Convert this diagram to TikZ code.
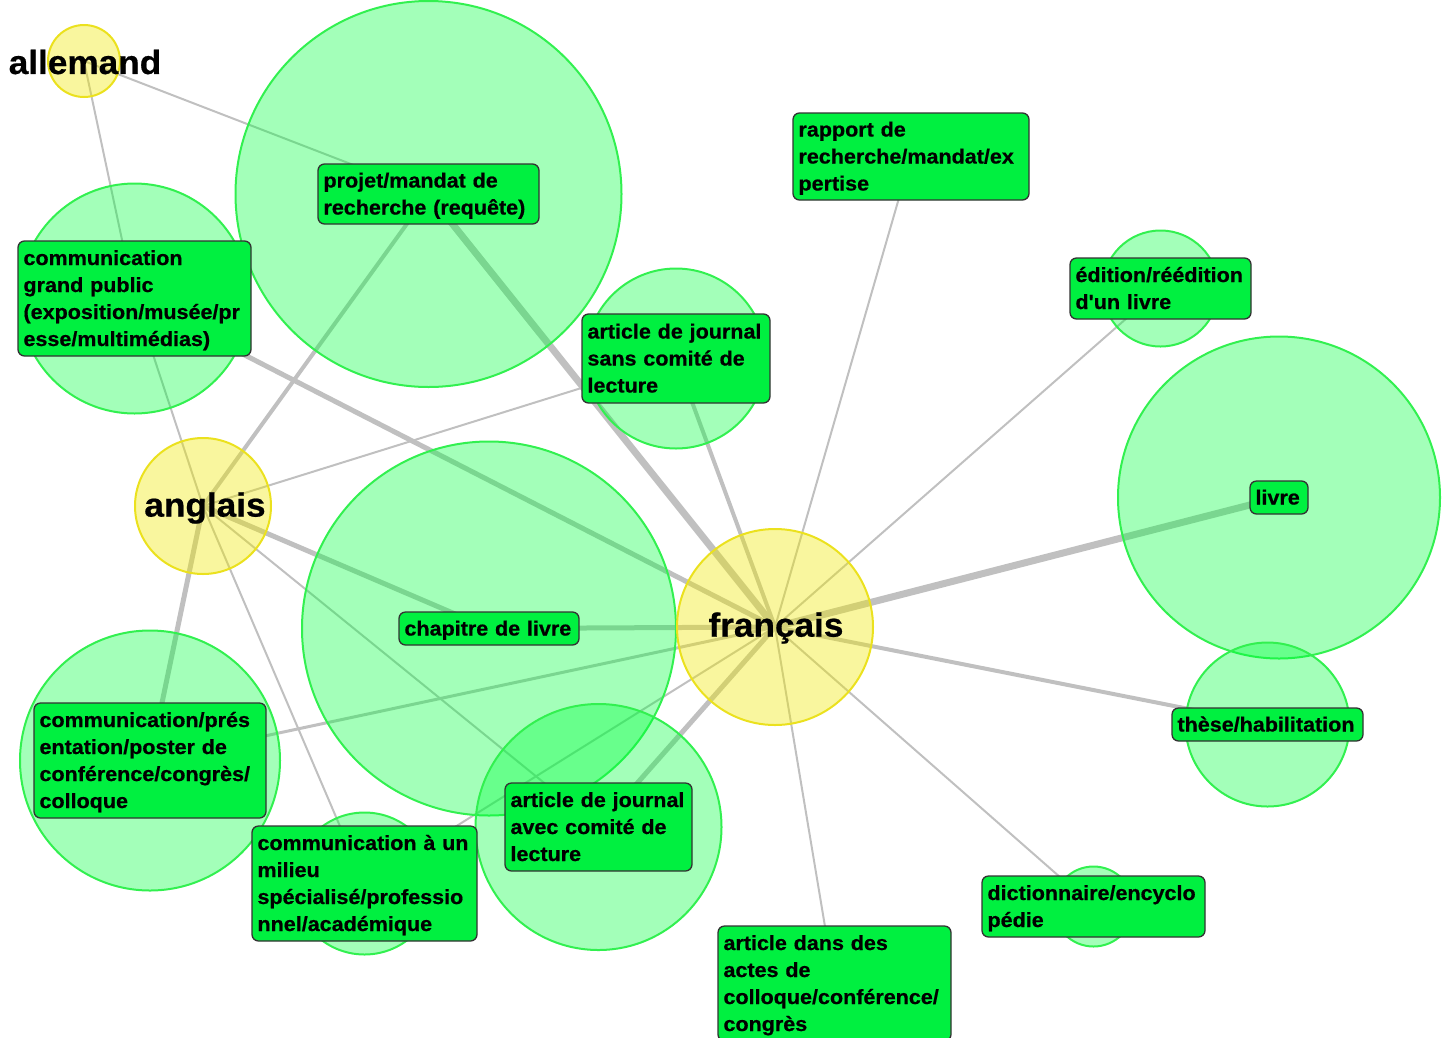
\documentclass[tikz,border=0pt]{standalone}
\usepackage{fontspec}
\newfontfamily\lblfont[FakeStretch=1.05,FakeBold=0.6]{Liberation Sans Bold}
\definecolor{gfill}{RGB}{0,255,60}
\definecolor{gline}{RGB}{50,240,80}
\definecolor{yfill}{RGB}{240,232,0}
\definecolor{yline}{RGB}{235,225,30}
\definecolor{lblfill}{RGB}{0,240,64}
\definecolor{edgec}{RGB}{192,192,192}
\tikzset{
  gcirc/.style={circle, draw=gline, line width=2pt, fill=gfill, fill opacity=0.36, inner sep=0pt},
  ycirc/.style={circle, draw=yline, line width=2pt, fill=yfill, fill opacity=0.38, inner sep=0pt},
  lbl/.style={draw=black!80, line width=1.3pt, rounded corners=6.5pt, fill=lblfill, inner xsep=5.5pt, inner ysep=2pt,
    font=\lblfont\fontsize{20.5}{27}\selectfont, align=left, text=black,
    execute at begin node={\rule{0pt}{19.5pt}},
    execute at end node={\rule[-5.5pt]{0pt}{5.5pt}}},
  big/.style={font=\lblfont\fontsize{33.5}{38}\selectfont, inner sep=0pt, text=black},
  ea/.style={draw=edgec, line width=2pt},
  eb/.style={draw=edgec, line width=3pt},
  ec/.style={draw=edgec, line width=4pt},
  ed/.style={draw=edgec, line width=5pt},
  ee/.style={draw=edgec, line width=7pt},
}
\begin{document}
\begin{tikzpicture}[x=1pt,y=-1pt]
\useasboundingbox (0,0) rectangle (1448,1037);
% centres
\coordinate (pAll) at (84,61);
\coordinate (pAng) at (203,506);
\coordinate (pFra) at (775,627);
\coordinate (pProj) at (428.5,194);
\coordinate (pGp) at (134.5,298.5);
\coordinate (pSans) at (676,358.5);
\coordinate (pRap) at (911,156.5);
\coordinate (pEd) at (1160.5,288.5);
\coordinate (pLiv) at (1279,497.5);
\coordinate (pThe) at (1267.5,724.5);
\coordinate (pDic) at (1093.5,906.5);
\coordinate (pAct) at (834.5,983.5);
\coordinate (pChap) at (489,628.5);
\coordinate (pAvec) at (598.5,827);
\coordinate (pMil) at (364.5,883.5);
\coordinate (pPres) at (150,760.5);
% edges
\draw[ea] (pAll) -- (pProj);
\draw[ea] (pAll) -- (pGp);
\draw[ec] (pAng) -- (pProj);
\draw[ea] (pAng) -- (pSans);
\draw[ea] (pAng) -- (pGp);
\draw[ed] (pAng) -- (pChap);
\draw[ed] (pAng) -- (pPres);
\draw[ea] (pAng) -- (pMil);
\draw[ea] (pAng) -- (pAvec);
\draw[ee] (pFra) -- (pProj);
\draw[ed] (pFra) -- (pGp);
\draw[ec] (pFra) -- (pSans);
\draw[ea] (pFra) -- (pRap);
\draw[ea] (pFra) -- (pEd);
\draw[ee] (pFra) -- (pLiv);
\draw[ec] (pFra) -- (pThe);
\draw[ea] (pFra) -- (pDic);
\draw[ea] (pFra) -- (pAct);
\draw[ed] (pFra) -- (pAvec);
\draw[ed] (pFra) -- (pChap);
\draw[eb] (pFra) -- (pPres);
\draw[ea] (pFra) -- (pMil);
% green circles
\node[gcirc, minimum size=386pt] (cProj) at (pProj) {};
\node[gcirc, minimum size=230pt] (cGp) at (pGp) {};
\node[gcirc, minimum size=180pt] (cSans) at (pSans) {};
\node[gcirc, minimum size=116pt] (cEd) at (pEd) {};
\node[gcirc, minimum size=322pt] (cLiv) at (pLiv) {};
\node[gcirc, minimum size=164pt] (cThe) at (pThe) {};
\node[gcirc, minimum size=80pt] (cDic) at (pDic) {};
\node[gcirc, minimum size=374pt] (cChap) at (pChap) {};
\node[gcirc, minimum size=246pt] (cAvec) at (pAvec) {};
\node[gcirc, minimum size=142pt] (cMil) at (pMil) {};
\node[gcirc, minimum size=260pt] (cPres) at (pPres) {};
% yellow circles
\node[ycirc, minimum size=72pt] (cAll) at (pAll) {};
\node[ycirc, minimum size=136pt] (cAng) at (pAng) {};
\node[ycirc, minimum size=196pt] (cFra) at (pFra) {};
% labels
\node[lbl, text width=210pt, minimum height=60pt] (lProj) at (pProj) {projet/mandat de\\recherche (requête)};
\node[lbl, text width=222pt, minimum height=115pt] (lGp) at (pGp) {communication\\grand public\\(exposition/musée/pr\\esse/multimédias)};
\node[lbl, text width=177pt, minimum height=89pt] (lSans) at (pSans) {article de journal\\sans comité de\\lecture};
\node[lbl, text width=225pt, minimum height=87pt] (lRap) at (pRap) {rapport de\\recherche/mandat/ex\\pertise};
\node[lbl, text width=170pt, minimum height=61pt] (lEd) at (pEd) {édition/réédition\\d'un livre};
\node[lbl, text width=47pt, minimum height=33pt] (lLiv) at (pLiv) {livre};
\node[lbl, text width=180pt, minimum height=33pt] (lThe) at (pThe) {thèse/habilitation};
\node[lbl, text width=212pt, minimum height=61pt] (lDic) at (pDic) {dictionnaire/encyclo\\pédie};
\node[lbl, text width=222pt, minimum height=115pt] (lAct) at (pAct) {article dans des\\actes de\\colloque/conférence/\\congrès};
\node[lbl, text width=169pt, minimum height=33pt] (lChap) at (pChap) {chapitre de livre};
\node[lbl, text width=176pt, minimum height=88pt] (lAvec) at (pAvec) {article de journal\\avec comité de\\lecture};
\node[lbl, text width=214pt, minimum height=115pt] (lMil) at (pMil) {communication à un\\milieu\\spécialisé/professio\\nnel/académique};
\node[lbl, text width=221pt, minimum height=115pt] (lPres) at (pPres) {communication/prés\\entation/poster de\\conférence/congrès/\\colloque};
% big labels
\node[big] (tAll) at (85,62) {allemand};
\node[big] (tAng) at (205,508) {anglais};
\node[big] (tFra) at (776,628) {français};
\end{tikzpicture}
\end{document}
